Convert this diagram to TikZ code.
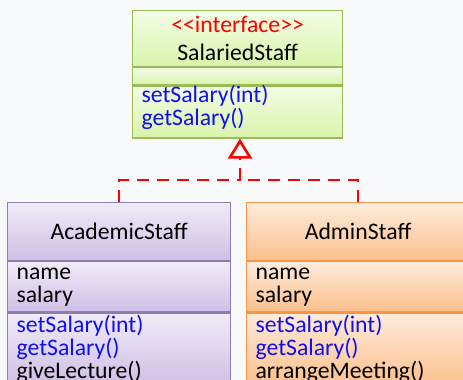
\documentclass[tikz,border=0pt]{standalone}
\usepackage{fontspec}
\setmainfont{Carlito}[Ligatures=TeXOff]
\usepackage{xcolor}
\usetikzlibrary{arrows.meta, positioning}
\definecolor{paper}{HTML}{F8F9FA}
\definecolor{stereo}{HTML}{FF0000}
\definecolor{opblue}{HTML}{1010F0}
\definecolor{realizered}{HTML}{FF0000}
\definecolor{ifacedraw}{HTML}{9BBB59}
\definecolor{ifacetop}{HTML}{F3FCE6}
\definecolor{ifacebot}{HTML}{D9F4AA}
\definecolor{acaddraw}{HTML}{8E7CB0}
\definecolor{acadtop}{HTML}{F0EBF7}
\definecolor{acadbot}{HTML}{CEBFE6}
\definecolor{admindraw}{HTML}{F79646}
\definecolor{admintop}{HTML}{FEEBDC}
\definecolor{adminbot}{HTML}{FCC08C}
\newcommand{\umltext}{\fontsize{23.7}{23}\selectfont}
\newcommand{\headtext}{\fontsize{23.7}{28}\selectfont}

\begin{document}
\begin{tikzpicture}[
      x=1pt, y=-1pt, node distance=0pt,
      part/.style={rectangle, line width=1.2pt, inner xsep=9pt, inner ysep=0pt,
                   align=left, font=\umltext},
      head/.style={part, align=center, font=\headtext},
      iface/.style={draw=ifacedraw, top color=ifacetop, bottom color=ifacebot,
                    text width=192pt},
      acad/.style={draw=acaddraw, top color=acadtop, bottom color=acadbot,
                   text width=205pt},
      admin/.style={draw=admindraw, top color=admintop, bottom color=adminbot,
                    text width=205pt},
      realize/.style={draw=realizered, line width=2.6pt, dash pattern=on 12pt off 8pt},
    ]
    \useasboundingbox (0,0) rectangle (463,380);
    \clip (0,0) rectangle (463,380);
    \fill[paper] (0,0) rectangle (463,380);

    % interface
    \node[head, iface, anchor=north west, minimum height=56pt] (ihead) at (132,10)
      {\textcolor{stereo}{<<interface>>}\\SalariedStaff};
    \node[part, iface, below=of ihead, minimum height=17pt] (iattr) {};
    \node[part, iface, below=of iattr, minimum height=52pt, text=opblue,
          text height=16pt, text depth=36pt] (imeth)
      {setSalary(int)\\getSalary()};

    % academic staff
    \node[head, acad, anchor=north west, minimum height=58pt] (ahead) at (7,202) {AcademicStaff};
    \node[part, acad, below=of ahead, minimum height=50pt] (aattr) {name\\salary};
    \node[part, acad, below=of aattr, minimum height=72pt] (ameth)
      {\textcolor{opblue}{setSalary(int)}\\\textcolor{opblue}{getSalary()}\\giveLecture()};

    % admin staff
    \node[head, admin, anchor=north west, minimum height=58pt] (dhead) at (246,202) {AdminStaff};
    \node[part, admin, below=of dhead, minimum height=50pt] (dattr) {name\\salary};
    \node[part, admin, below=of dattr, minimum height=72pt] (dmeth)
      {\textcolor{opblue}{setSalary(int)}\\\textcolor{opblue}{getSalary()}\\arrangeMeeting()};

    % realization
    \coordinate (join) at (240,180);
    \draw[realize] (ahead.north) |- (join);
    \draw[realize] (dhead.north) |- (join);
    \draw[realize, -{Triangle[open, length=20pt, width=24pt]}] (join) -- (join |- imeth.south);
  \end{tikzpicture}
\end{document}
